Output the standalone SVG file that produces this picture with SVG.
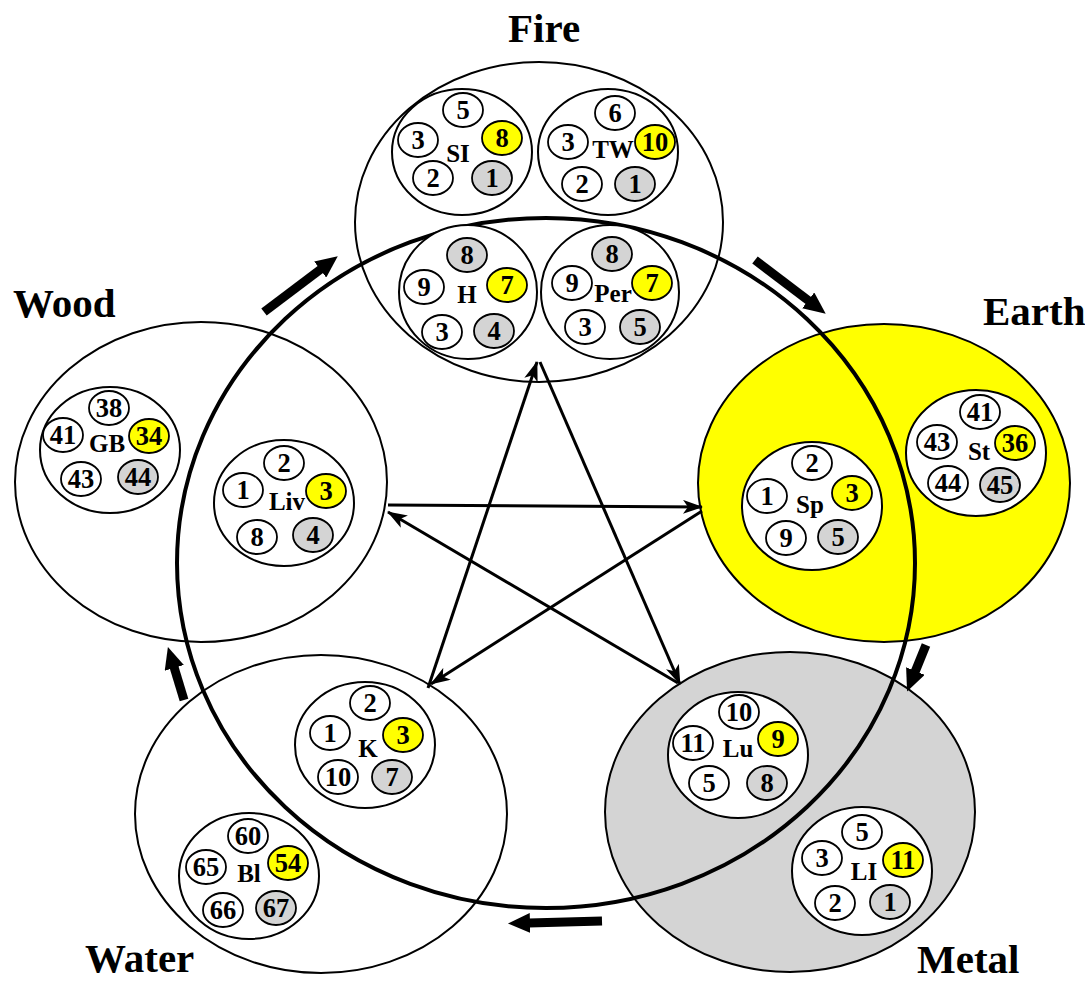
<svg xmlns="http://www.w3.org/2000/svg" width="1085" height="984" viewBox="0 0 1085 984">
<defs>
<style>
text{font-family:"Liberation Serif","Times New Roman",serif;font-weight:bold;fill:#000}
.big{stroke:#000;stroke-width:2}
.org{fill:#fff;stroke:#000;stroke-width:2}
.pt{fill:#fff;stroke:#000;stroke-width:1.8}
.y{fill:#ffff00}
.g{fill:#d4d4d4}
.num{font-size:26.5px;text-anchor:middle}
.lbl{font-size:25px;text-anchor:middle}
.title{font-size:41px}
.star{stroke:#000;stroke-width:3;fill:none}
.blk{stroke:#000;stroke-width:9;fill:none}
</style>
<marker id="ah" viewBox="0 0 20 14" refX="19" refY="7" markerWidth="20" markerHeight="14" markerUnits="userSpaceOnUse" orient="auto">
<path d="M0,0 L20,7 L0,14 L5,7 z" fill="#000"/>
</marker>
<marker id="bh" viewBox="0 0 22 20" refX="1" refY="10" markerWidth="22" markerHeight="20" markerUnits="userSpaceOnUse" orient="auto">
<path d="M0,0 L22,10 L0,20 z" fill="#000"/>
</marker>
</defs>
<rect width="1085" height="984" fill="#fff"/>

<g id="element-fire">
<ellipse class="big" cx="539" cy="222" rx="184" ry="160" fill="#fff"/>
<text class="title" x="508" y="42">Fire</text>
</g>
<g id="element-wood">
<ellipse class="big" cx="201" cy="482" rx="186" ry="160" fill="#fff"/>
<text class="title" x="13" y="317">Wood</text>
</g>
<g id="element-earth">
<ellipse class="big" cx="884" cy="483" rx="186" ry="159" fill="#ffff00"/>
<text class="title" x="983" y="325">Earth</text>
</g>
<g id="element-water">
<ellipse class="big" cx="321" cy="814" rx="186" ry="159" fill="#fff"/>
<text class="title" x="85" y="972">Water</text>
</g>
<g id="element-metal">
<ellipse class="big" cx="790" cy="812" rx="185" ry="160" fill="#d4d4d4"/>
<text class="title" x="917" y="973">Metal</text>
</g>

<g id="cycle">
<ellipse cx="546" cy="563" rx="369" ry="345" fill="none" stroke="#000" stroke-width="4"/>
</g>

<g id="organ-SI">
<ellipse class="org" cx="462" cy="152" rx="70" ry="63"/>
<ellipse class="pt" cx="463" cy="110" rx="20" ry="17"/><text class="num" x="463" y="118.5">5</text>
<ellipse class="pt" cx="418" cy="140" rx="20" ry="17"/><text class="num" x="418" y="148.5">3</text>
<ellipse class="pt y" cx="502" cy="138" rx="20" ry="17"/><text class="num" x="502" y="146.5">8</text>
<ellipse class="pt" cx="433" cy="178" rx="20" ry="17"/><text class="num" x="433" y="186.5">2</text>
<ellipse class="pt g" cx="492" cy="178" rx="20" ry="17"/><text class="num" x="492" y="186.5">1</text>
<text class="lbl" x="458" y="162">SI</text>
</g>
<g id="organ-TW">
<ellipse class="org" cx="608" cy="152" rx="70" ry="63"/>
<ellipse class="pt" cx="615" cy="113" rx="20" ry="17"/><text class="num" x="615" y="121.5">6</text>
<ellipse class="pt" cx="568" cy="142" rx="20" ry="17"/><text class="num" x="568" y="150.5">3</text>
<ellipse class="pt y" cx="655" cy="142" rx="20" ry="17"/><text class="num" x="655" y="150.5">10</text>
<ellipse class="pt" cx="582" cy="184" rx="20" ry="17"/><text class="num" x="582" y="192.5">2</text>
<ellipse class="pt g" cx="635" cy="184" rx="20" ry="17"/><text class="num" x="635" y="192.5">1</text>
<text class="lbl" x="613" y="158">TW</text>
</g>
<g id="organ-H">
<ellipse class="org" cx="468" cy="292" rx="69" ry="67"/>
<ellipse class="pt g" cx="467" cy="255" rx="20" ry="17"/><text class="num" x="467" y="263.5">8</text>
<ellipse class="pt" cx="424" cy="287" rx="20" ry="17"/><text class="num" x="424" y="295.5">9</text>
<ellipse class="pt y" cx="507" cy="285" rx="20" ry="17"/><text class="num" x="507" y="293.5">7</text>
<ellipse class="pt" cx="442" cy="332" rx="20" ry="17"/><text class="num" x="442" y="340.5">3</text>
<ellipse class="pt g" cx="494" cy="331" rx="20" ry="17"/><text class="num" x="494" y="339.5">4</text>
<text class="lbl" x="467" y="303">H</text>
</g>
<g id="organ-Per">
<ellipse class="org" cx="610" cy="292" rx="69" ry="67"/>
<ellipse class="pt g" cx="612" cy="254" rx="20" ry="17"/><text class="num" x="612" y="262.5">8</text>
<ellipse class="pt" cx="572" cy="283" rx="20" ry="17"/><text class="num" x="572" y="291.5">9</text>
<ellipse class="pt y" cx="652" cy="283" rx="20" ry="17"/><text class="num" x="652" y="291.5">7</text>
<ellipse class="pt" cx="585" cy="327" rx="20" ry="17"/><text class="num" x="585" y="335.5">3</text>
<ellipse class="pt g" cx="640" cy="327" rx="20" ry="17"/><text class="num" x="640" y="335.5">5</text>
<text class="lbl" x="613" y="302">Per</text>
</g>

<g id="organ-GB">
<ellipse class="org" cx="110" cy="450" rx="70" ry="63"/>
<ellipse class="pt" cx="109" cy="408" rx="20" ry="17"/><text class="num" x="109" y="416.5">38</text>
<ellipse class="pt" cx="63" cy="435" rx="20" ry="17"/><text class="num" x="63" y="443.5">41</text>
<ellipse class="pt y" cx="149" cy="436" rx="20" ry="17"/><text class="num" x="149" y="444.5">34</text>
<ellipse class="pt" cx="81" cy="479" rx="20" ry="17"/><text class="num" x="81" y="487.5">43</text>
<ellipse class="pt g" cx="138" cy="477" rx="20" ry="17"/><text class="num" x="138" y="485.5">44</text>
<text class="lbl" x="107" y="452">GB</text>
</g>
<g id="organ-Liv">
<ellipse class="org" cx="284" cy="503" rx="70" ry="63"/>
<ellipse class="pt" cx="284" cy="463" rx="20" ry="17"/><text class="num" x="284" y="471.5">2</text>
<ellipse class="pt" cx="243" cy="490" rx="20" ry="17"/><text class="num" x="243" y="498.5">1</text>
<ellipse class="pt y" cx="326" cy="491" rx="20" ry="17"/><text class="num" x="326" y="499.5">3</text>
<ellipse class="pt" cx="257" cy="537" rx="20" ry="17"/><text class="num" x="257" y="545.5">8</text>
<ellipse class="pt g" cx="313" cy="535" rx="20" ry="17"/><text class="num" x="313" y="543.5">4</text>
<text class="lbl" x="287" y="510">Liv</text>
</g>

<g id="organ-Sp">
<ellipse class="org" cx="812" cy="506" rx="70" ry="64"/>
<ellipse class="pt" cx="812" cy="463" rx="20" ry="17"/><text class="num" x="812" y="471.5">2</text>
<ellipse class="pt" cx="767" cy="496" rx="20" ry="17"/><text class="num" x="767" y="504.5">1</text>
<ellipse class="pt y" cx="852" cy="493" rx="20" ry="17"/><text class="num" x="852" y="501.5">3</text>
<ellipse class="pt" cx="786" cy="538" rx="20" ry="17"/><text class="num" x="786" y="546.5">9</text>
<ellipse class="pt g" cx="838" cy="537" rx="20" ry="17"/><text class="num" x="838" y="545.5">5</text>
<text class="lbl" x="810" y="513">Sp</text>
</g>
<g id="organ-St">
<ellipse class="org" cx="976" cy="453" rx="70" ry="63"/>
<ellipse class="pt" cx="980" cy="412" rx="20" ry="17"/><text class="num" x="980" y="420.5">41</text>
<ellipse class="pt" cx="937" cy="442" rx="20" ry="17"/><text class="num" x="937" y="450.5">43</text>
<ellipse class="pt y" cx="1015" cy="443" rx="20" ry="17"/><text class="num" x="1015" y="451.5">36</text>
<ellipse class="pt" cx="948" cy="483" rx="20" ry="17"/><text class="num" x="948" y="491.5">44</text>
<ellipse class="pt g" cx="1000" cy="485" rx="20" ry="17"/><text class="num" x="1000" y="493.5">45</text>
<text class="lbl" x="979" y="460">St</text>
</g>

<g id="organ-K">
<ellipse class="org" cx="365" cy="745" rx="70" ry="63"/>
<ellipse class="pt" cx="370" cy="703" rx="20" ry="17"/><text class="num" x="370" y="711.5">2</text>
<ellipse class="pt" cx="330" cy="733" rx="20" ry="17"/><text class="num" x="330" y="741.5">1</text>
<ellipse class="pt y" cx="403" cy="735" rx="20" ry="17"/><text class="num" x="403" y="743.5">3</text>
<ellipse class="pt" cx="338" cy="777" rx="20" ry="17"/><text class="num" x="338" y="785.5">10</text>
<ellipse class="pt g" cx="392" cy="777" rx="20" ry="17"/><text class="num" x="392" y="785.5">7</text>
<text class="lbl" x="368" y="757">K</text>
</g>
<g id="organ-Bl">
<ellipse class="org" cx="249" cy="876" rx="70" ry="63"/>
<ellipse class="pt" cx="248" cy="836" rx="20" ry="17"/><text class="num" x="248" y="844.5">60</text>
<ellipse class="pt" cx="206" cy="867" rx="20" ry="17"/><text class="num" x="206" y="875.5">65</text>
<ellipse class="pt y" cx="288" cy="863" rx="20" ry="17"/><text class="num" x="288" y="871.5">54</text>
<ellipse class="pt" cx="223" cy="910" rx="20" ry="17"/><text class="num" x="223" y="918.5">66</text>
<ellipse class="pt g" cx="276" cy="908" rx="20" ry="17"/><text class="num" x="276" y="916.5">67</text>
<text class="lbl" x="249" y="882">Bl</text>
</g>

<g id="organ-Lu">
<ellipse class="org" cx="738" cy="755" rx="70" ry="63"/>
<ellipse class="pt" cx="739" cy="712" rx="20" ry="17"/><text class="num" x="739" y="720.5">10</text>
<ellipse class="pt" cx="693" cy="743" rx="20" ry="17"/><text class="num" x="693" y="751.5">11</text>
<ellipse class="pt y" cx="778" cy="739" rx="20" ry="17"/><text class="num" x="778" y="747.5">9</text>
<ellipse class="pt" cx="709" cy="783" rx="20" ry="17"/><text class="num" x="709" y="791.5">5</text>
<ellipse class="pt g" cx="767" cy="783" rx="20" ry="17"/><text class="num" x="767" y="791.5">8</text>
<text class="lbl" x="738" y="757">Lu</text>
</g>
<g id="organ-LI">
<ellipse class="org" cx="862" cy="871" rx="70" ry="64"/>
<ellipse class="pt" cx="862" cy="832" rx="20" ry="17"/><text class="num" x="862" y="840.5">5</text>
<ellipse class="pt" cx="822" cy="858" rx="20" ry="17"/><text class="num" x="822" y="866.5">3</text>
<ellipse class="pt y" cx="903" cy="860" rx="20" ry="17"/><text class="num" x="903" y="868.5">11</text>
<ellipse class="pt" cx="835" cy="903" rx="20" ry="17"/><text class="num" x="835" y="911.5">2</text>
<ellipse class="pt g" cx="890" cy="902" rx="20" ry="17"/><text class="num" x="890" y="910.5">1</text>
<text class="lbl" x="864" y="880">LI</text>
</g>

<g id="connectors">
<line class="star" x1="388" y1="505" x2="702" y2="507" marker-end="url(#ah)"/>
<line class="star" x1="702" y1="511" x2="431" y2="684" marker-end="url(#ah)"/>
<line class="star" x1="428" y1="688" x2="537" y2="362" marker-end="url(#ah)"/>
<line class="star" x1="540" y1="362" x2="680" y2="684" marker-end="url(#ah)"/>
<line class="star" x1="678" y1="683" x2="388" y2="512" marker-end="url(#ah)"/>
<line class="blk" x1="264" y1="312" x2="321" y2="269" marker-end="url(#bh)"/>
<line class="blk" x1="755" y1="260" x2="809" y2="301" marker-end="url(#bh)"/>
<line class="blk" x1="926" y1="645" x2="915" y2="672" marker-end="url(#bh)"/>
<line class="blk" x1="602" y1="921" x2="529" y2="923" marker-end="url(#bh)"/>
<line class="blk" x1="184" y1="700" x2="174" y2="667" marker-end="url(#bh)"/>
</g>
</svg>
